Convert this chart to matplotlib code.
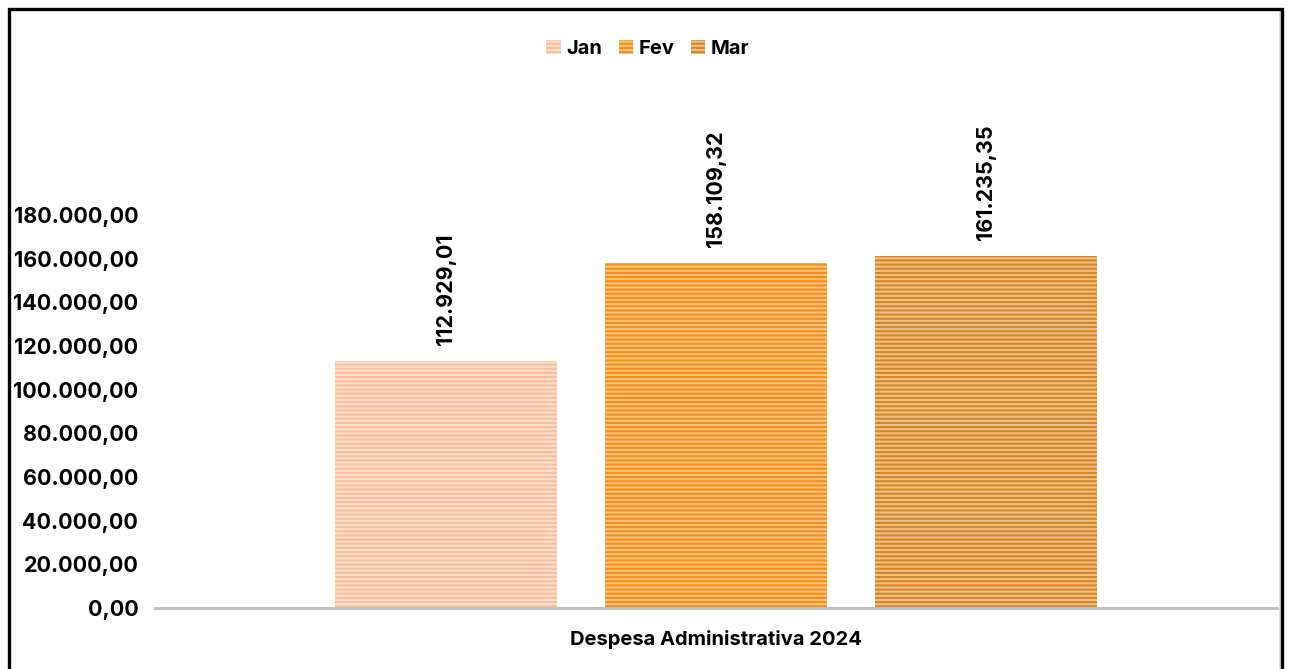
import matplotlib.pyplot as plt
from matplotlib.patches import Rectangle, Patch

# dados
categoria = "Despesa Administrativa 2024"
meses = ["Jan", "Fev", "Mar"]
valores = [112929.01, 158109.32, 161235.35]
yticks = [0, 20000, 40000, 60000, 80000, 100000, 120000, 140000, 160000, 180000]

cor_fundo = ["#FDDDCB", "#FBC27E", "#EFC088"]
cor_listra = ["#F8BF9C", "#F58F17", "#D38626"]


def fmt_br(v):
    s = f"{v:,.2f}"
    return s.replace(",", "X").replace(".", ",").replace("X", ".")


plt.rcParams["font.family"] = ["Inter", "DejaVu Sans"]
plt.rcParams["font.weight"] = "bold"
plt.rcParams["hatch.linewidth"] = 1.5

W, H = 1289, 669
fig = plt.figure(figsize=(W / 100, H / 100), dpi=100)

# eixo: x de 155 a 1277 px, y=0 em 608 px, 180000 em 215 px
px_per_unit = (608 - 215) / 180000
ax_top = 100
ax = fig.add_axes([155 / W, (H - 608) / H, (1277 - 155) / W, (608 - ax_top) / H])
ax.set_ylim(0, (608 - ax_top) / px_per_unit)
ax.set_xlim(-0.5, 0.5)

largura = 222 / 1122
passo = 270 / 1122
for i, (m, v) in enumerate(zip(meses, valores)):
    x = (i - 1) * passo
    ax.bar(x, v, width=largura, color=cor_fundo[i], edgecolor=cor_listra[i],
           hatch="----", linewidth=0, label=m, zorder=2)
    ax.text(x, v + 16 / px_per_unit, fmt_br(v), rotation=90, ha="center", va="bottom",
            fontsize=15.5, fontweight="bold", color="#000000")

for s in ["top", "right", "left"]:
    ax.spines[s].set_visible(False)
ax.spines["bottom"].set_color("#BFBFBF")
ax.spines["bottom"].set_linewidth(2.2)
ax.spines["bottom"].set_zorder(3)

ax.set_yticks(yticks)
ax.set_yticklabels([fmt_br(t) for t in yticks], fontsize=15.5, fontweight="bold")
ax.tick_params(axis="y", length=0, pad=12)
ax.set_xticks([0])
ax.set_xticklabels([categoria], fontsize=14.5, fontweight="bold")
ax.tick_params(axis="x", length=0, pad=16)

handles = [Patch(facecolor=cor_fundo[i], edgecolor=cor_listra[i], hatch="----", linewidth=0)
           for i in range(3)]
fig.legend(handles, meses, loc="center", bbox_to_anchor=(648 / W, 1 - 49 / H), ncol=3,
           frameon=False, fontsize=14.5, handlelength=0.7, handleheight=0.7,
           handletextpad=0.3, columnspacing=0.8)

# moldura
fig.patches.append(Rectangle((10 / W, -0.1), (1280 - 10) / W, (H - 10) / H + 0.1,
                             transform=fig.transFigure, fill=False,
                             edgecolor="#D9D9D9", linewidth=1.2, zorder=5))
fig.patches.append(Rectangle((9 / W, -0.1), (1282 - 9) / W, (H - 9) / H + 0.1,
                             transform=fig.transFigure, fill=False,
                             edgecolor="#000000", linewidth=2.4, zorder=6))

fig.savefig("out.png", dpi=100)
